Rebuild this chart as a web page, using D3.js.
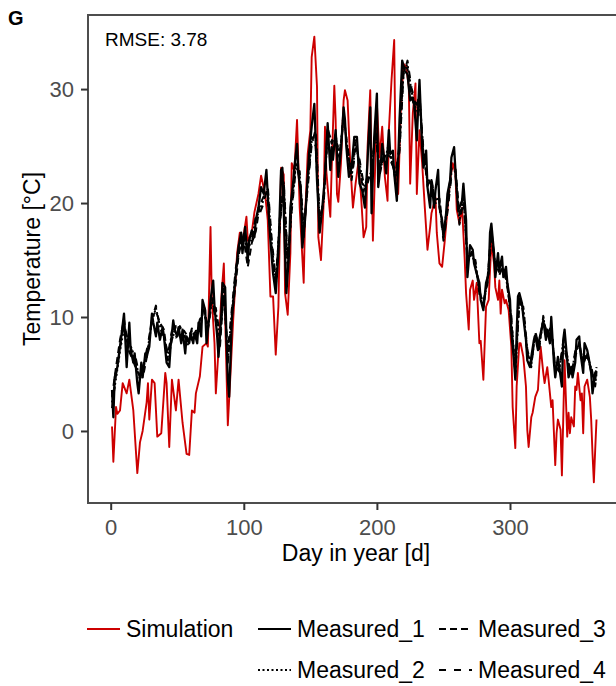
<!DOCTYPE html>
<html>
<head>
<meta charset="utf-8">
<script src="https://cdn.jsdelivr.net/npm/d3@7"></script>
<style>
  body { margin: 0; background: #fff; }
  svg { font-family: "Liberation Sans", Arial, sans-serif; }
</style>
</head>
<body>
<div id="chart"></div>
<script>
// simulated temperature (red)
var simDay = [1,2,4,5,7,9,12,14,17,20,22,24,27,28,29,31,33,35,38,41,42,44,46,49,51,54,57,59,61,63,64,67,69,72,73,75,76,78,79,81,83,85,88,90,92,95,97,99,102,103,106,108,111,113,116,118,120,122,124,126,128,130,131,133,135,136,138,140,142,145,146,148,150,151,153,155,156,158,160,161,162,163,165,166,168,169,170,171,173,175,176,178,180,182,184,186,188,190,192,193,195,197,199,200,202,204,206,208,209,211,213,214,216,218,220,222,224,225,227,229,230,232,234,236,238,240,241,244,245,247,249,251,253,255,257,259,260,262,264,266,267,269,270,272,273,275,277,278,280,282,284,285,286,288,289,291,292,293,294,296,297,299,301,302,304,305,307,308,310,312,313,314,316,317,319,321,322,323,325,326,328,329,331,332,334,335,336,338,339,340,341,343,344,345,346,348,349,350,351,353,354,355,356,358,360,361,362,363,364,365];
var simTemp = [0.4,-2.7,2.1,1.5,1.8,4.2,3.3,4.5,1.8,-3.7,-1,0,2.5,4.2,1,4.5,4.2,-0.5,-0.2,5.1,4.2,-1.4,4.5,1.8,4.5,0.7,-2,-2.1,1.8,1.6,3.3,4.8,7.4,7.7,7.4,17.9,11.5,7.7,3.3,7.1,11.5,14.7,0.5,5,9.7,15.6,17.4,16.5,18.8,16.7,17.4,19.2,20.8,22.4,20.8,18.5,11.8,11.8,6.7,10.9,23.1,22.5,12.1,10.2,15.6,23.5,22.8,27.3,19.6,13,18.5,24.3,26.4,32.8,34.6,30.2,17,15,20,26.7,22.8,21.4,18.8,22.9,30.3,27.3,20.8,20.1,23.5,29,29.9,29,23.5,19.6,21.7,23.5,20.8,17,17.9,24.9,29.9,16.7,24.3,28.7,24,26.7,22.3,20.2,26.4,30.8,34.3,23.8,20.8,28.4,32.2,32,30.2,21.7,27.9,30.5,20.8,26.4,23.5,19.6,15.9,17.9,19.1,20.5,17.4,14.7,14.4,16.7,19.4,22,23.5,22.6,19.4,18.2,19.6,15,12.1,8.9,12.4,13.2,11.5,13,7.7,7.9,4.5,10.9,11.5,14.1,16.5,14.7,12.6,11.5,13.2,10.3,12.4,11.2,11.5,10.6,7.4,2.1,-1.5,3.9,7.7,7.7,6.5,3.9,0.1,-1.4,1.2,1.6,3,3.6,5.6,7.4,5.1,4.2,5.6,4.5,2.1,2.7,-3,-0.2,1,0.1,-3.9,1,6.2,-0.5,1.6,-0.2,1.2,0.4,3.9,3.6,5.1,2.7,3.3,-0.2,3.9,4.5,3,1,-2,-4.5,-1.7,1];

// measured sensor 1 (solid black)
var m1Day = [1,2,3,5,6,8,10,11,12,14,15,17,18,20,21,23,24,26,27,29,31,32,34,35,37,39,40,42,44,45,47,48,50,51,53,54,56,57,59,60,62,63,65,66,68,69,71,72,74,75,77,78,80,81,83,84,86,87,88,89,91,93,96,98,99,101,103,104,106,108,109,111,113,115,117,119,120,122,124,126,128,129,131,132,134,135,137,138,140,141,143,144,146,148,149,151,153,154,155,157,159,161,163,165,166,167,169,171,173,175,176,177,179,181,183,185,187,189,191,193,195,196,198,200,201,203,204,206,207,209,210,212,213,215,217,219,221,223,225,227,228,230,231,232,234,235,237,238,240,241,243,244,246,247,249,250,252,253,255,256,258,259,261,262,264,265,267,268,270,272,273,275,277,278,280,282,284,285,286,288,289,291,292,294,295,297,298,300,301,303,304,305,306,307,309,310,312,313,315,316,318,319,321,322,324,325,327,328,330,331,333,334,336,337,339,340,341,343,344,346,347,349,350,352,353,355,356,358,359,361,362,364,365];
var m1Temp = [3.6,1.2,4.7,5.6,6.5,8.3,10.3,8,5.6,9.5,7.1,6,6.8,4.2,3.3,6,4.7,6.8,6.5,7.4,10.3,9.5,8.3,9.5,8,9.1,8.3,6,5.6,7.4,9.7,8.9,8.3,9.1,7.7,8.9,6.8,8.3,7.7,8.6,7.7,8.6,7.7,9.5,8.3,11.5,10.6,7.7,10,11.5,13.2,10.9,8.3,6.5,10,13,12.6,8,4.5,3,9.7,12.6,16.1,17.4,15.6,17.9,15,16.7,17.6,17,18.5,19.6,21.4,20.8,22.9,18.5,16.7,13.8,12.1,15.6,22.9,23.1,15.6,12.1,15.6,19.6,21.7,23.1,25.2,22.6,20.8,16.1,18.5,22.3,24.3,26.7,28.7,25.5,22,17.4,19.6,22.3,27,22.9,24.9,23.8,26.4,22.3,24.6,28.4,27.3,25,22.3,23.1,25.8,25.8,21.7,21.1,19.6,23.8,28.4,19.1,25.8,29.6,21.4,23.5,25.2,23.5,22.6,26.4,24.3,24.6,22.6,20.2,27.3,32.5,31.6,31.3,29,29.2,28.7,25.5,28.4,30.8,24.9,23.1,24.6,21.4,19.6,22,19.6,21.1,22.9,19.6,18.5,17,19.1,20.8,22,24,24.9,22.9,19.4,19.6,20.2,21.7,18.5,13.5,16.3,15.9,14.7,13.8,13,11.5,10.6,13,13.8,17.4,18.2,15.6,13.5,15.6,14.1,15.3,13.5,14.4,13,11.5,8.6,6.2,4.5,8.6,11.8,12.1,11.2,10,8,6.2,5.6,6.5,8,8.3,7.1,8,9.1,9.7,8,8.9,7.7,10,6,4.7,6.5,5.6,3.9,8,8.9,6.2,4.7,5.6,4.7,6,8,8.3,6.8,5.1,7.7,7.1,6.5,5.1,3.3,5.1,5.3];

// sensors 2-4, read every third day
var mDay = [1,4,7,10,13,16,19,22,25,28,31,34,37,40,43,46,49,52,55,58,61,64,67,70,73,76,79,82,85,88,91,94,97,100,103,106,109,112,115,118,121,124,127,130,133,136,139,142,145,148,151,154,157,160,163,166,169,172,175,178,181,184,187,190,193,196,199,202,205,208,211,214,217,220,223,226,229,232,235,238,241,244,247,250,253,256,259,262,265,268,271,274,277,280,283,286,289,292,295,298,301,304,307,310,313,316,319,322,325,328,331,334,337,340,343,346,349,352,355,358,361,364,365];
var m2Temp = [2.5,4.6,7.0,9.0,7.8,7.2,6.0,4.5,5.8,7.3,9.6,10.8,9.2,8.2,6.5,8.6,8.2,9.0,8.6,7.6,8.8,8.0,9.6,10.6,9.0,11.4,10.5,8.0,12.2,6.5,10.4,14.0,16.2,17.0,15.8,16.9,18.6,19.4,20.3,21.2,16.4,13.0,18.2,21.8,14.6,19.6,23.2,22.5,17.5,21.6,25.4,26.2,18.3,20.2,26.3,25.5,25.8,24.1,27.6,24.7,22.3,25.1,23.5,21.4,22.0,22.8,26.3,22.8,23.9,24.6,23.8,22.4,24.8,31.6,32.2,29.8,28.4,29.2,24.4,21.8,21.9,20.0,20.1,17.0,19.5,22.6,22.8,18.4,20.5,15.2,15.4,14.8,12.2,11.2,13.0,17.4,14.5,13.9,14.3,12.8,9.8,5.0,11.5,10.7,7.0,5.8,8.6,7.4,9.9,8.3,9.0,5.5,5.4,7.7,6.4,5.0,6.8,7.6,6.0,6.7,5.5,4.1,5.0];
var m3Temp = [3.0,5.6,8.0,9.8,7.2,6.4,5.5,4.8,5.2,7.0,10.0,10.5,9.5,8.9,6.2,8.0,9.2,8.3,8.8,8.3,8.0,8.8,8.8,11.0,8.9,11.7,9.6,7.2,12.5,6.0,10.0,13.0,16.5,16.8,14.4,16.5,17.5,19.8,20.6,20.2,16.0,12.6,18.6,21.4,14.2,20.0,23.5,22.2,17.0,22.0,25.8,25.0,17.8,20.6,26.6,25.2,26.0,23.8,28.0,24.4,22.6,25.5,23.0,21.0,22.4,22.4,26.6,22.4,24.2,24.2,24.0,22.0,25.2,32.0,31.8,29.4,28.0,29.6,24.0,22.2,21.6,20.3,20.4,17.3,19.8,23.0,23.1,19.0,20.8,14.8,15.7,14.6,12.4,10.9,13.2,17.7,14.2,14.1,14.0,13.0,9.5,5.2,11.8,10.4,6.8,6.0,8.4,7.6,9.7,8.5,9.2,5.3,5.6,7.5,6.2,5.2,6.5,7.8,5.8,6.9,5.2,4.3,5.6];
var m4Temp = [2.0,4.9,7.3,9.3,8.0,7.0,6.3,4.6,6.0,7.6,9.8,11.0,9.0,8.4,6.7,8.8,8.5,9.2,8.4,7.8,9.0,8.2,9.8,10.3,9.3,11.0,10.8,8.4,11.9,7.0,10.7,14.3,15.9,17.3,16.1,16.4,18.9,19.1,20.0,21.5,16.8,13.4,17.8,22.0,15.0,19.3,22.9,22.8,17.8,21.3,25.1,26.5,18.6,19.9,26.0,25.8,25.5,24.4,27.3,25.0,22.0,24.8,23.8,21.7,21.7,23.1,26.0,23.1,23.6,24.9,23.5,22.7,24.5,31.3,32.5,30.1,28.7,28.9,24.7,21.5,22.2,19.7,19.8,16.7,19.2,22.3,22.5,18.1,20.2,15.5,15.1,15.0,12.0,11.4,12.8,17.1,14.8,13.7,14.5,12.6,10.1,4.8,11.2,10.9,7.2,5.6,8.8,7.2,10.1,8.1,8.8,5.7,5.2,7.9,6.6,4.8,7.0,7.4,6.2,6.5,5.7,3.9,5.2];

var xTicks = [0, 100, 200, 300];
var yTicks = [0, 10, 20, 30];

var series = [
  { name: 'Simulation', day: simDay, temp: simTemp, color: '#CD0000', dash: null, w: 1.9 },
  { name: 'Measured_1', day: m1Day, temp: m1Temp, color: '#000', dash: null, w: 2.3 },
  { name: 'Measured_2', day: mDay, temp: m2Temp, color: '#000', dash: '2,2.5', w: 2 },
  { name: 'Measured_3', day: mDay, temp: m3Temp, color: '#000', dash: '7,4', w: 2 },
  { name: 'Measured_4', day: mDay, temp: m4Temp, color: '#000', dash: '7,8', w: 2 }
];

var W = 616, H = 686;
var panel = { left: 88, right: 621, top: 15, bottom: 503 };

var svg = d3.select('#chart').append('svg')
  .attr('width', W)
  .attr('height', H);

var x = d3.scaleLinear().domain([-17.05, 383.4]).range([panel.left, panel.right]);
var y = d3.scaleLinear().domain([-6.32, 36.5]).range([panel.bottom, panel.top]);

svg.append('defs').append('clipPath').attr('id', 'clip')
  .append('rect')
  .attr('x', panel.left).attr('y', panel.top)
  .attr('width', panel.right - panel.left).attr('height', panel.bottom - panel.top);

// lines
var line = d3.line()
  .x(function(d) { return x(d[0]); })
  .y(function(d) { return y(d[1]); });

var g = svg.append('g').attr('clip-path', 'url(#clip)');
series.forEach(function(s) {
  var pts = s.day.map(function(d, i) { return [d, s.temp[i]]; });
  g.append('path')
    .datum(pts)
    .attr('d', line)
    .attr('fill', 'none')
    .attr('stroke', s.color)
    .attr('stroke-width', s.w)
    .attr('stroke-linejoin', 'round')
    .attr('stroke-dasharray', s.dash);
});

// panel border (top + left + bottom, right side is cut off)
svg.append('path')
  .attr('d', 'M' + panel.right + ',' + panel.top + 'H' + panel.left + 'V' + panel.bottom + 'H' + panel.right)
  .attr('fill', 'none')
  .attr('stroke', '#4d4d4d')
  .attr('stroke-width', 2);

// axes
var xAxis = svg.append('g')
  .attr('transform', 'translate(0,' + panel.bottom + ')')
  .call(d3.axisBottom(x).tickValues(xTicks).tickSize(7).tickPadding(9));
var yAxis = svg.append('g')
  .attr('transform', 'translate(' + panel.left + ',0)')
  .call(d3.axisLeft(y).tickValues(yTicks).tickSize(7).tickPadding(7));

[xAxis, yAxis].forEach(function(a) {
  a.select('.domain').remove();
  a.selectAll('.tick line').attr('stroke', '#333').attr('stroke-width', 2);
  a.selectAll('.tick text')
    .attr('fill', '#4d4d4d')
    .style('font-size', '22px')
    .style('font-family', '"Liberation Sans", Arial, sans-serif');
});

// titles
svg.append('text')
  .attr('x', 356).attr('y', 561)
  .attr('text-anchor', 'middle')
  .style('font-size', '23px')
  .text('Day in year [d]');

svg.append('text')
  .attr('transform', 'translate(40,259) rotate(-90)')
  .attr('text-anchor', 'middle')
  .style('font-size', '23px')
  .text('Temperature [°C]');

svg.append('text')
  .attr('x', 8).attr('y', 25)
  .style('font-size', '20px')
  .style('font-weight', 'bold')
  .text('G');

svg.append('text')
  .attr('x', 105).attr('y', 46)
  .style('font-size', '19px')
  .text('RMSE: 3.78');

// legend
var legendPos = [
  { name: 'Simulation', x: 87, y: 629 },
  { name: 'Measured_1', x: 258, y: 629 },
  { name: 'Measured_3', x: 439, y: 629 },
  { name: 'Measured_2', x: 258, y: 670 },
  { name: 'Measured_4', x: 439, y: 670 }
];

var leg = svg.append('g');
legendPos.forEach(function(p) {
  var s = series.find(function(d) { return d.name === p.name; });
  leg.append('line')
    .attr('x1', p.x).attr('x2', p.x + 33)
    .attr('y1', p.y).attr('y2', p.y)
    .attr('stroke', s.color)
    .attr('stroke-width', 2)
    .attr('stroke-dasharray', s.dash);
  leg.append('text')
    .attr('x', p.x + 39).attr('y', p.y + 8)
    .style('font-size', '23px')
    .text(p.name);
});
</script>
</body>
</html>
